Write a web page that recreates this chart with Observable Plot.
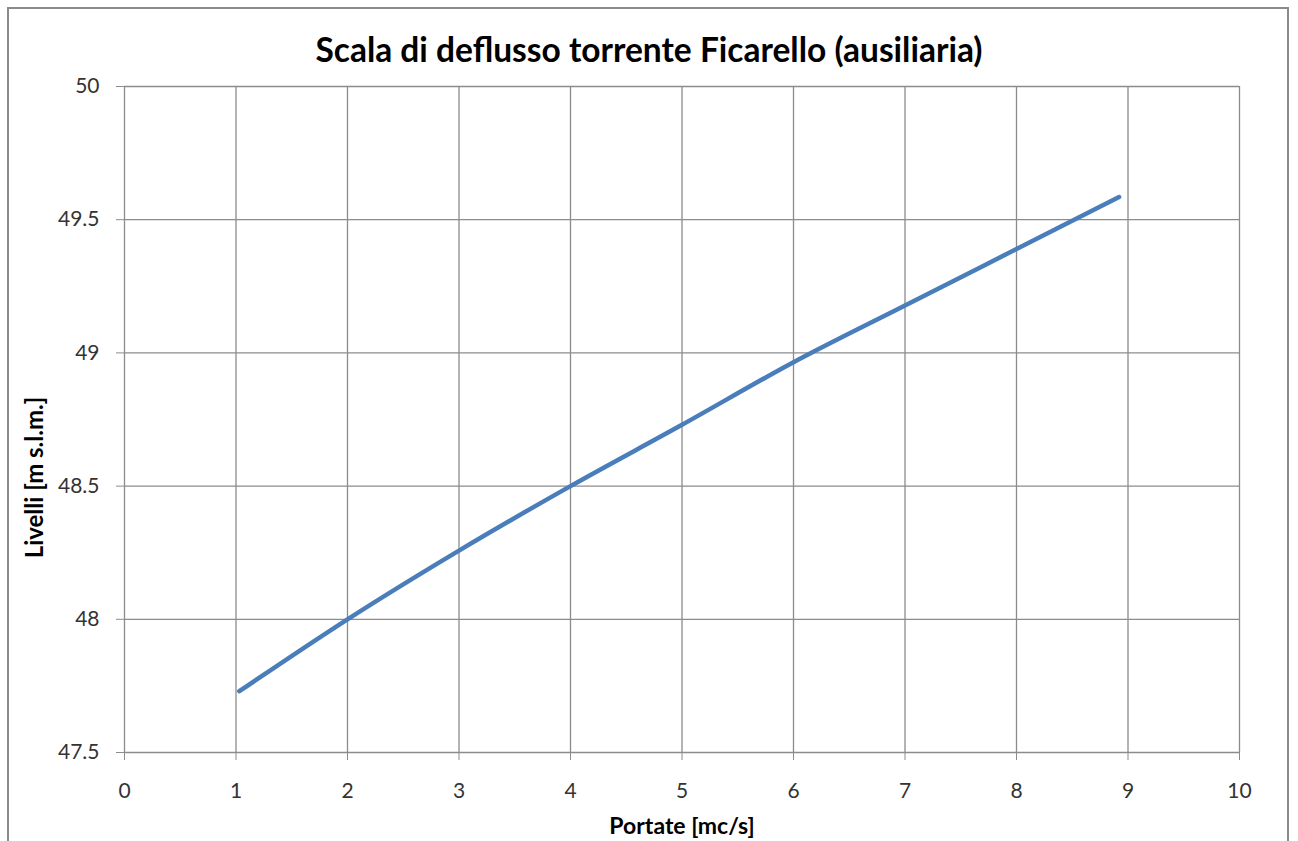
<!DOCTYPE html>
<html>
<head>
<meta charset="utf-8">
<script src="https://cdn.jsdelivr.net/npm/d3@7"></script>
<script src="https://cdn.jsdelivr.net/npm/@observablehq/plot@0.6"></script>
<style>
  html, body { margin: 0; padding: 0; background: #fff; }
  #wrap { position: relative; width: 1298px; height: 841px; overflow: hidden; font-family: Lato, "Open Sans", sans-serif; }
  #border { position: absolute; left: 7px; top: 7px; width: 1282px; height: 900px; border: 2px solid #8a8a8a; box-sizing: border-box; }
  #title { position: absolute; left: 0; width: 1298px; top: 29px; text-align: center; font-weight: bold; font-size: 33.5px; line-height: 40px; color: #000; }
  #chart { position: absolute; left: 0; top: 0; }
</style>
</head>
<body>
<div id="wrap">
  <div id="border"></div>
  <div id="chart"></div>
  <div id="title">Scala di deflusso torrente Ficarello (ausiliaria)</div>
</div>
<script>
const portate = [1.03, 2, 3, 4, 5, 6, 7, 8, 8.92];
const livelli = [47.73, 48.0, 48.258, 48.50, 48.73, 48.965, 49.178, 49.39, 49.585];
const xTicks = [0, 1, 2, 3, 4, 5, 6, 7, 8, 9, 10];
const yTicks = [47.5, 48, 48.5, 49, 49.5, 50];
const xLabel = "Portate [mc/s]";
const yLabel = "Livelli [m s.l.m.]";

const data = portate.map((x, i) => ({x, y: livelli[i]}));

const chart = Plot.plot({
  width: 1298,
  height: 841,
  marginLeft: 124,
  marginRight: 59,
  marginTop: 86,
  marginBottom: 89,
  style: { fontFamily: "Lato, 'Open Sans', sans-serif", fontSize: "21px", color: "#333", background: "transparent" },
  x: { domain: [0, 10], label: null },
  y: { domain: [47.5, 50], label: null },
  marks: [
    Plot.ruleX(xTicks, { stroke: "#8c8c8c", strokeWidth: 1.3, strokeOpacity: 1 }),
    Plot.ruleY(yTicks, { stroke: "#8c8c8c", strokeWidth: 1.3, strokeOpacity: 1 }),
    Plot.axisX({ ticks: xTicks, tickSize: 8, tickPadding: 23, fontSize: 21, stroke: "#8c8c8c", strokeOpacity: 1, fill: "#333", tickFormat: d => String(d), label: null }),
    Plot.axisY({ ticks: yTicks, tickSize: 8, tickPadding: 17, fontSize: 21, stroke: "#8c8c8c", strokeOpacity: 1, fill: "#333", tickFormat: d => String(d), label: null }),
    Plot.line(data, { x: "x", y: "y", stroke: "#4a7ebb", strokeWidth: 4.5, curve: "monotone-x" }),
    Plot.text([xLabel], { frameAnchor: "bottom", dy: 81, text: d => d, fontWeight: "bold", fontSize: 23, fill: "#000" }),
    Plot.text([yLabel], { frameAnchor: "left", dx: -89, dy: 58, rotate: -90, textAnchor: "middle", text: d => d, fontWeight: "bold", fontSize: 24, fill: "#000" })
  ]
});
document.getElementById("chart").appendChild(chart);
</script>
</body>
</html>
